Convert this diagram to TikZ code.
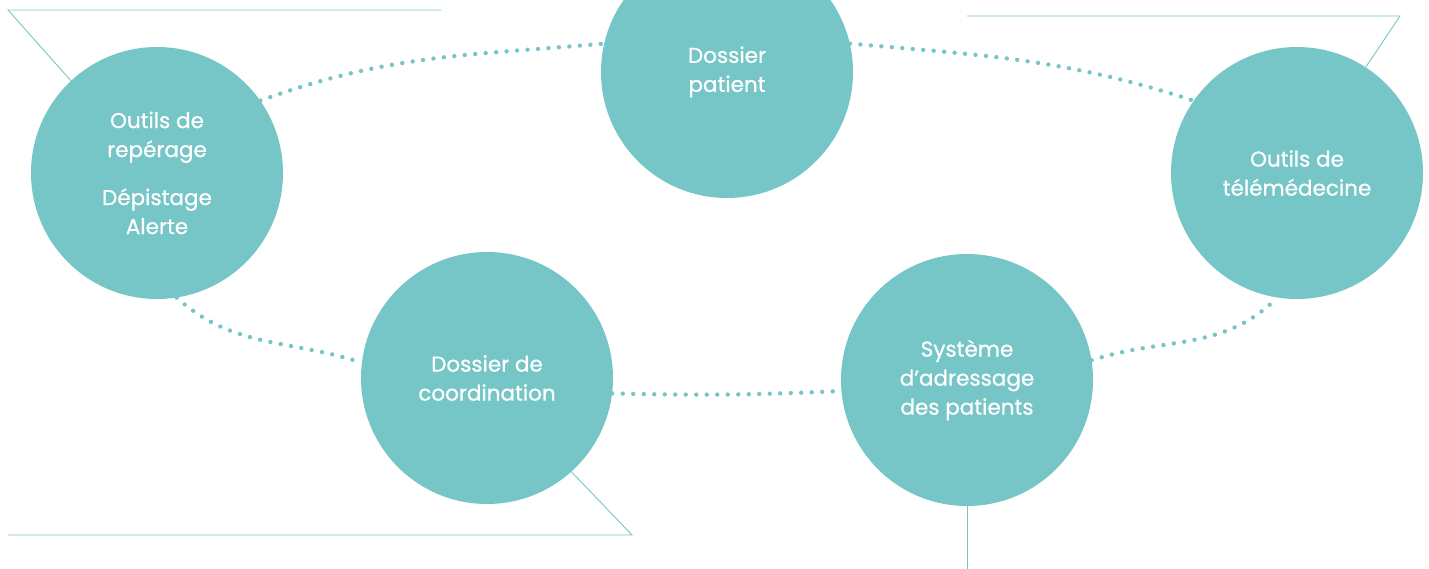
\documentclass[tikz,border=0pt]{standalone}
\usepackage{fontspec}
\setmainfont{Poppins}
\newfontfamily\hubfont[FakeBold=0.7]{Poppins}
\definecolor{tealhub}{RGB}{119,198,199}

\begin{document}
\begin{tikzpicture}[x=1pt, y=-1pt,
  hub/.style = {shape=circle, fill=tealhub, minimum size=252pt,
    inner sep=0pt, align=center, text=white,
    font=\hubfont\fontsize{21.5}{29}\selectfont},
  dots/.style = {draw=tealhub, line width=4.4pt, line cap=round,
    dash pattern=on 0pt off 10.5pt},
  frame/.style = {draw=tealhub, line width=0.9pt}]
  \useasboundingbox (0,0) rectangle (1429,569);
  \node[hub] (screening) at (157,173) {Outils de\\repérage\\[19pt]Dépistage\\Alerte};
  \node[hub] (patientfile) at (727,72) {Dossier\\patient};
  \node[hub] (telemed) at (1297,173) {Outils de\\télémédecine};
  \node[hub] (coordination) at (487,378) {Dossier de\\coordination};
  \node[hub] (referral) at (967,380) {Système\\d’adressage\\des patients};
  % dotted ring
  \draw[dots] (screening.35) to[out=20, in=185] (patientfile.167);
  \draw[dots] (patientfile.13) to[out=-5, in=162] (telemed.145);
  \draw[dots] (screening.-81) to[out=-42, in=162] (coordination.173);
  \draw[dots] (coordination.-7) to[bend right=2] (referral.185);
  \draw[dots] (referral.9) to[out=18, in=225] (telemed.261);
  % frame lines
  \coordinate (tlcorner) at (8,10);
  \coordinate (tlend) at (441,10);
  \coordinate (trcorner) at (1400,16);
  \coordinate (trend) at (967,16);
  \coordinate (blcorner) at (632,535);
  \coordinate (blend) at (8,535);
  \coordinate (bend) at (967,569);
  \draw[frame] (screening.133) -- (tlcorner) -- (tlend);
  \draw[frame] (telemed.57) -- (trcorner) -- (trend);
  \draw[frame] (coordination.-48) -- (blcorner) -- (blend);
  \draw[frame] (referral.south) -- (bend);
\end{tikzpicture}
\end{document}
